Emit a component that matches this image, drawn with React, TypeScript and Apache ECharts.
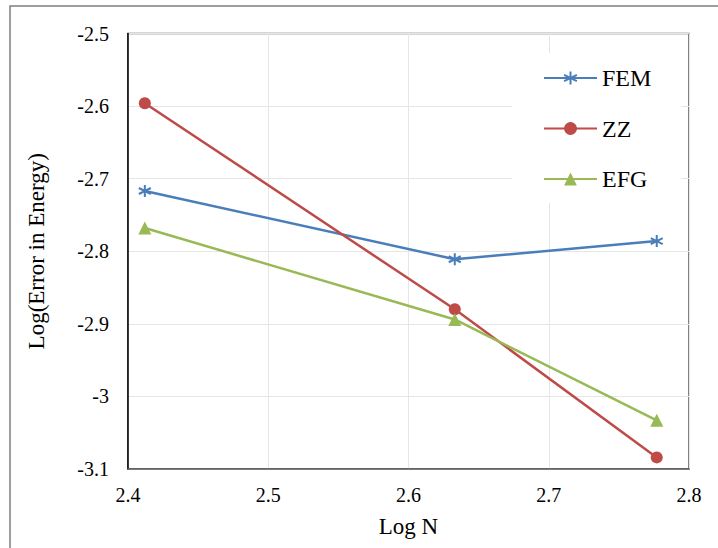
import React, { useEffect, useRef } from "react";
import * as echarts from "echarts";

const logN = [2.412, 2.633, 2.777];
const femValues = [-2.717, -2.811, -2.786];
const zzValues = [-2.596, -2.88, -3.084];
const efgValues = [-2.768, -2.894, -3.033];
const seriesNames = ["FEM", "ZZ", "EFG"];
const xAxisTitle = "Log N";
const yAxisTitle = "Log(Error in Energy)";

const FONT = "Liberation Serif, Times New Roman, serif";
const BLUE = "#4A7EBB";
const RED = "#BE4B48";
const GREEN = "#98B954";
const ASTERISK = "path://M5,0 L5,10 M0.7,2.5 L9.3,7.5 M0.7,7.5 L9.3,2.5";

const pair = (xs: number[], ys: number[]) => xs.map((x, i) => [x, ys[i]]);

export default function App() {
  const ref = useRef<HTMLDivElement>(null);
  useEffect(() => {
    if (!ref.current) return;
    const chart = echarts.init(ref.current, null, { renderer: "svg" });
    chart.setOption({
      animation: false,
      backgroundColor: "#ffffff",
      textStyle: { fontFamily: FONT },
      graphic: [
        {
          type: "rect",
          shape: { x: 10, y: 6, width: 760, height: 600 },
          style: { fill: "none", stroke: "#7f7f7f", lineWidth: 1.5 },
          silent: true,
        },
      ],
      grid: {
        left: 128,
        top: 33.5,
        right: 29,
        bottom: 79,
        show: true,
        borderColor: "#595959",
        borderWidth: 1.5,
        backgroundColor: "transparent",
      },
      legend: {
        orient: "vertical",
        left: 512,
        top: 53,
        padding: [13, 30, 12, 31],
        backgroundColor: "#ffffff",
        itemWidth: 53,
        itemHeight: 16,
        itemGap: 26.5,
        textStyle: { fontFamily: FONT, fontSize: 24, color: "#000", lineHeight: 24 },
        data: seriesNames,
      },
      xAxis: {
        type: "value",
        min: 2.4,
        max: 2.8,
        interval: 0.1,
        name: xAxisTitle,
        nameLocation: "middle",
        nameGap: 46,
        nameTextStyle: { fontFamily: FONT, fontSize: 23, color: "#000" },
        axisLine: { show: true, onZero: false, lineStyle: { color: "#595959", width: 1.5 } },
        axisTick: { show: false },
        axisLabel: {
          fontFamily: FONT,
          fontSize: 20,
          color: "#000",
          margin: 16,
          formatter: (v: number) => String(Number(v.toFixed(1))),
        },
        splitLine: { show: true, lineStyle: { color: "#e6e6e6", width: 1 } },
      },
      yAxis: {
        type: "value",
        min: -3.1,
        max: -2.5,
        interval: 0.1,
        name: yAxisTitle,
        nameLocation: "middle",
        nameGap: 80,
        nameTextStyle: { fontFamily: FONT, fontSize: 23, color: "#000" },
        axisLine: { show: true, onZero: false, lineStyle: { color: "#000", width: 1.5 } },
        axisTick: { show: false },
        axisLabel: {
          fontFamily: FONT,
          fontSize: 20,
          color: "#000",
          margin: 19,
          formatter: (v: number) => String(Number(v.toFixed(1))),
        },
        splitLine: { show: true, lineStyle: { color: "#e6e6e6", width: 1 } },
      },
      series: [
        {
          name: seriesNames[0],
          type: "line",
          data: pair(logN, femValues),
          symbol: ASTERISK,
          symbolSize: 12,
          lineStyle: { color: BLUE, width: 2.5 },
          itemStyle: { color: BLUE, borderColor: BLUE, borderWidth: 2 },
        },
        {
          name: seriesNames[1],
          type: "line",
          data: pair(logN, zzValues),
          symbol: "circle",
          symbolSize: 12,
          lineStyle: { color: RED, width: 2.5 },
          itemStyle: { color: RED, borderWidth: 0 },
        },
        {
          name: seriesNames[2],
          type: "line",
          data: pair(logN, efgValues),
          symbol: "triangle",
          symbolSize: 13,
          lineStyle: { color: GREEN, width: 2.5 },
          itemStyle: { color: GREEN, borderWidth: 0 },
        },
      ],
    });
    return () => chart.dispose();
  }, []);
  return (
    <div
      ref={ref}
      style={{ position: "fixed", left: 0, top: 0, width: 718, height: 548 }}
    />
  );
}
